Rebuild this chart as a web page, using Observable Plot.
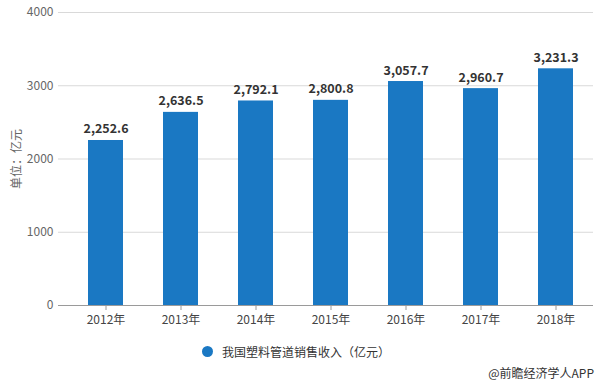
<!DOCTYPE html>
<html>
<head>
<meta charset="utf-8">
<script src="https://cdn.jsdelivr.net/npm/d3@7"></script>
<script src="https://cdn.jsdelivr.net/npm/@observablehq/plot@0.6"></script>
<style>
  body { margin: 0; background: #fff; font-family: "Noto Sans CJK SC", "Noto Sans", sans-serif; }
  #wrap { position: relative; width: 599px; height: 385px; }
  #legend { position: absolute; left: 202px; top: 341px; height: 20px; display: flex; align-items: center; font-size: 12px; color: #333; }
  #legend .dot { width: 11px; height: 11px; border-radius: 50%; background: #1a78c3; margin-right: 9px; }
  #source { position: absolute; right: 5px; top: 364px; font-size: 12px; color: #333; }
</style>
</head>
<body>
<div id="wrap">
  <div id="chart"></div>
  <div id="legend"><span class="dot"></span><span id="legend-text"></span></div>
  <div id="source"></div>
</div>
<script>
const years = ["2012年", "2013年", "2014年", "2015年", "2016年", "2017年", "2018年"];
const revenue = [2252.6, 2636.5, 2792.1, 2800.8, 3057.7, 2960.7, 3231.3];
const yTicks = [0, 1000, 2000, 3000, 4000];
const seriesName = "我国塑料管道销售收入（亿元）";
const yLabel = "单位：亿元";
const sourceText = "@前瞻经济学人APP";

const data = years.map((y, i) => ({year: y, value: revenue[i]}));
const fmt = d3.format(",.1f");

const chart = Plot.plot({
  width: 599,
  height: 335,
  marginTop: 12,
  marginBottom: 30,
  marginLeft: 58,
  marginRight: 6,
  style: { fontFamily: "\"Noto Sans CJK SC\", \"Noto Sans\", sans-serif", fontSize: "12px", background: "transparent" },
  x: { domain: years, paddingInner: 0.54, paddingOuter: 0.33, align: 0.6 },
  y: { domain: [0, 4000] },
  marks: [
    Plot.gridY(yTicks, { stroke: "#d9d9d9", strokeOpacity: 1 }),
    Plot.axisY(yTicks, { tickSize: 0, tickPadding: 5, fill: "#666", label: yLabel, labelAnchor: "center", labelArrow: "none", labelOffset: 46, tickFormat: d => String(d) }),
    Plot.barY(data, { x: "year", y: "value", fill: "#1a78c3" }),
    Plot.ruleY([0], { stroke: "#9a9a9a" }),
    Plot.axisX({ tickSize: 5, tickPadding: 5, stroke: "#9a9a9a", fill: "#444", label: null }),
    Plot.text(data, { x: "year", y: "value", text: d => fmt(d.value), lineAnchor: "bottom", dy: -7, fontWeight: "bold", fill: "#333", fontSize: 12.5 })
  ]
});
document.getElementById("chart").appendChild(chart);
document.getElementById("legend-text").textContent = seriesName;
document.getElementById("source").textContent = sourceText;
</script>
</body>
</html>
